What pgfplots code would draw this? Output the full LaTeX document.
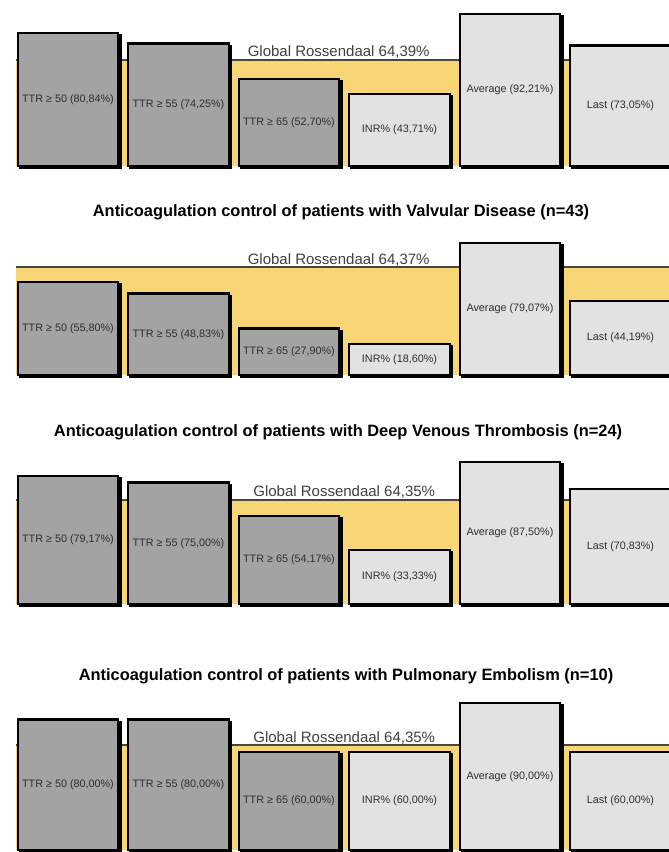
\documentclass[border=0pt]{standalone}
\usepackage{pgfplots}
\pgfplotsset{compat=1.18}
\usepackage{fontspec}
\setmainfont{Liberation Sans}
\usetikzlibrary{shadows}
\definecolor{bandfill}{HTML}{F8D676}
\definecolor{bandline}{HTML}{474540}
\definecolor{darkbar}{HTML}{A3A3A3}
\definecolor{lightbar}{HTML}{E2E2E2}
\definecolor{labtxt}{HTML}{2E2E2E}
\pgfplotsset{
  panel/.style={anchor=south west, scale only axis, width=669pt,
    xmin=-0.615, xmax=5.439, ymin=0, ymax=100, hide axis, clip=false},
  barstyle/.style={ybar, bar width=0.91, bar shift=0pt, draw=black, line width=2.2pt,
    drop shadow={shadow xshift=2.2pt, shadow yshift=-2.2pt, fill=black, opacity=1},
    point meta=explicit symbolic, nodes near coords,
    visualization depends on={y/2 \as \halfy},
    every node near coord/.append style={anchor=center, text=labtxt,
      font=\fontsize{10.8}{12}\selectfont, shift={(axis direction cs:0,-\halfy)}}},
  band/.style={fill=bandfill, draw=none},
  bandtop/.style={draw=bandline, line width=2pt},
}
\begin{document}
\begin{tikzpicture}
\useasboundingbox (0,0) rectangle (669pt,852pt);
% Panel 1
\begin{axis}[panel, at={(0pt,686pt)}, height=165pt]
\addplot[band] coordinates {(-0.47,64.39) (5.6,64.39)} \closedcycle;
\addplot[bandtop] coordinates {(-0.47,64.39) (5.6,64.39)};
\addplot[barstyle, fill=darkbar] coordinates {(0,80.84) [{TTR ≥ 50 (80,84\%)}] (1,74.25) [{TTR ≥ 55 (74,25\%)}] (2,52.70) [{TTR ≥ 65 (52,70\%)}]};
\addplot[barstyle, fill=lightbar] coordinates {(3,43.71) [{INR\% (43,71\%)}] (4,92.21) [{Average (92,21\%)}] (5,73.05) [{Last (73,05\%)}]};
\node[anchor=base, yshift=3pt, text=black!75, font=\fontsize{15}{17}\selectfont] at (axis cs:2.45,64.39) {Global Rossendaal 64,39\%};
\end{axis}
\node[font=\bfseries\fontsize{16.4}{18}\selectfont] at (341pt,640pt) {Anticoagulation control of patients with Valvular Disease (n=43)};
% Panel 2
\begin{axis}[panel, at={(0pt,477pt)}, height=167pt]
\addplot[band] coordinates {(-0.47,64.37) (5.6,64.37)} \closedcycle;
\addplot[bandtop] coordinates {(-0.47,64.37) (5.6,64.37)};
\addplot[barstyle, fill=darkbar] coordinates {(0,55.80) [{TTR ≥ 50 (55,80\%)}] (1,48.83) [{TTR ≥ 55 (48,83\%)}] (2,27.90) [{TTR ≥ 65 (27,90\%)}]};
\addplot[barstyle, fill=lightbar] coordinates {(3,18.60) [{INR\% (18,60\%)}] (4,79.07) [{Average (79,07\%)}] (5,44.19) [{Last (44,19\%)}]};
\node[anchor=base, yshift=3pt, text=black!75, font=\fontsize{15}{17}\selectfont] at (axis cs:2.45,64.37) {Global Rossendaal 64,37\%};
\end{axis}
\node[font=\bfseries\fontsize{16.4}{18}\selectfont] at (338pt,420pt) {Anticoagulation control of patients with Deep Venous Thrombosis (n=24)};
% Panel 3
\begin{axis}[panel, at={(0pt,248pt)}, height=162pt]
\addplot[band] coordinates {(-0.47,64.35) (5.6,64.35)} \closedcycle;
\addplot[bandtop] coordinates {(-0.47,64.35) (5.6,64.35)};
\addplot[barstyle, fill=darkbar] coordinates {(0,79.17) [{TTR ≥ 50 (79,17\%)}] (1,75.00) [{TTR ≥ 55 (75,00\%)}] (2,54.17) [{TTR ≥ 65 (54,17\%)}]};
\addplot[barstyle, fill=lightbar] coordinates {(3,33.33) [{INR\% (33,33\%)}] (4,87.50) [{Average (87,50\%)}] (5,70.83) [{Last (70,83\%)}]};
\node[anchor=base, yshift=3pt, text=black!75, font=\fontsize{15}{17}\selectfont] at (axis cs:2.5,64.35) {Global Rossendaal 64,35\%};
\end{axis}
\node[font=\bfseries\fontsize{16.4}{18}\selectfont] at (346pt,176pt) {Anticoagulation control of patients with Pulmonary Embolism (n=10)};
% Panel 4
\begin{axis}[panel, at={(0pt,2pt)}, height=163pt]
\addplot[band] coordinates {(-0.47,64.35) (5.6,64.35)} \closedcycle;
\addplot[bandtop] coordinates {(-0.47,64.35) (5.6,64.35)};
\addplot[barstyle, fill=darkbar] coordinates {(0,80.00) [{TTR ≥ 50 (80,00\%)}] (1,80.00) [{TTR ≥ 55 (80,00\%)}] (2,60.00) [{TTR ≥ 65 (60,00\%)}]};
\addplot[barstyle, fill=lightbar] coordinates {(3,60.00) [{INR\% (60,00\%)}] (4,90.00) [{Average (90,00\%)}] (5,60.00) [{Last (60,00\%)}]};
\node[anchor=base, yshift=3pt, text=black!75, font=\fontsize{15}{17}\selectfont] at (axis cs:2.5,64.35) {Global Rossendaal 64,35\%};
\end{axis}
\end{tikzpicture}
\end{document}
